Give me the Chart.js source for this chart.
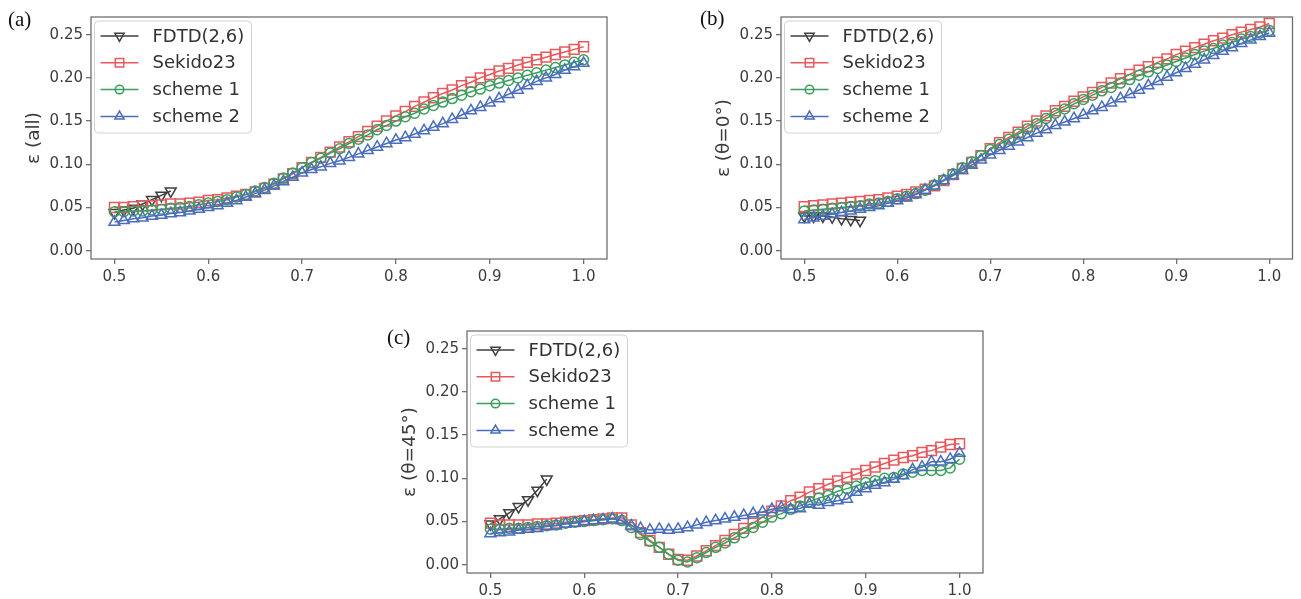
<!DOCTYPE html>
<html>
<head>
<meta charset="utf-8">
<script src="https://cdn.jsdelivr.net/npm/chart.js@4.4.1/dist/chart.umd.min.js"></script>
<style>
  html, body { margin: 0; padding: 0; background: #fff; }
  #wrap { position: relative; width: 1301px; height: 599px; overflow: hidden; background: #fff; }
  canvas { position: absolute; }
</style>
</head>
<body>
<div id="wrap">
  <canvas id="pa" width="640" height="295" style="left:0px;top:0px"></canvas>
  <canvas id="pb" width="611" height="295" style="left:690px;top:0px"></canvas>
  <canvas id="pc" width="620" height="285" style="left:376px;top:314px"></canvas>
</div>
<script>
// wavelength-like sweep shared by the three schemes
const xs = [0.50,0.51,0.52,0.53,0.54,0.55,0.56,0.57,0.58,0.59,
            0.60,0.61,0.62,0.63,0.64,0.65,0.66,0.67,0.68,0.69,
            0.70,0.71,0.72,0.73,0.74,0.75,0.76,0.77,0.78,0.79,
            0.80,0.81,0.82,0.83,0.84,0.85,0.86,0.87,0.88,0.89,
            0.90,0.91,0.92,0.93,0.94,0.95,0.96,0.97,0.98,0.99,1.00];
const xsFdtd = [0.50,0.51,0.52,0.53,0.54,0.55,0.56];

const xTicks = [0.5,0.6,0.7,0.8,0.9,1.0];
const yTicks = [0.00,0.05,0.10,0.15,0.20,0.25];

const seriesNames = ['FDTD(2,6)','Sekido23','scheme 1','scheme 2'];

// (a) all directions
const fdtdA = [0.044,0.047,0.049,0.054,0.059,0.064,0.069];
const sekidoA = [0.050,0.050,0.051,0.052,0.052,0.053,0.054,0.054,0.055,0.056,
                 0.058,0.059,0.061,0.063,0.065,0.068,0.072,0.077,0.083,0.089,
                 0.096,0.102,0.108,0.114,0.120,0.126,0.132,0.138,0.144,0.150,
                 0.156,0.161,0.167,0.172,0.177,0.182,0.186,0.191,0.195,0.200,
                 0.204,0.208,0.211,0.215,0.218,0.221,0.224,0.227,0.230,0.233,0.236];
const scheme1A = [0.045,0.045,0.046,0.046,0.047,0.048,0.049,0.050,0.051,0.053,
                  0.055,0.057,0.059,0.062,0.065,0.069,0.073,0.078,0.084,0.090,
                  0.096,0.102,0.107,0.113,0.118,0.124,0.129,0.134,0.140,0.145,
                  0.150,0.155,0.159,0.164,0.168,0.172,0.176,0.180,0.184,0.187,
                  0.191,0.194,0.197,0.200,0.203,0.206,0.209,0.212,0.215,0.218,0.221];
const scheme2A = [0.033,0.035,0.037,0.038,0.040,0.041,0.043,0.044,0.046,0.048,
                  0.050,0.052,0.055,0.058,0.062,0.066,0.070,0.075,0.080,0.085,
                  0.090,0.094,0.097,0.101,0.104,0.108,0.112,0.116,0.120,0.124,
                  0.128,0.131,0.135,0.139,0.143,0.147,0.152,0.157,0.162,0.166,
                  0.171,0.176,0.181,0.186,0.191,0.196,0.200,0.204,0.209,0.213,0.217];

// (b) theta = 0 deg
const fdtdB = [0.040,0.040,0.040,0.039,0.037,0.036,0.035];
const sekidoB = [0.051,0.052,0.053,0.054,0.055,0.056,0.057,0.058,0.059,0.061,
                 0.063,0.065,0.068,0.071,0.075,0.081,0.088,0.095,0.102,0.110,
                 0.118,0.125,0.131,0.137,0.144,0.150,0.156,0.162,0.167,0.173,
                 0.178,0.183,0.189,0.194,0.199,0.204,0.209,0.213,0.218,0.222,
                 0.227,0.231,0.235,0.239,0.243,0.246,0.250,0.253,0.256,0.259,0.263];
const scheme1B = [0.046,0.047,0.048,0.049,0.050,0.051,0.052,0.054,0.055,0.057,
                  0.060,0.063,0.066,0.070,0.076,0.082,0.089,0.096,0.103,0.110,
                  0.117,0.123,0.129,0.135,0.141,0.147,0.153,0.159,0.164,0.170,
                  0.175,0.180,0.185,0.189,0.194,0.198,0.203,0.207,0.211,0.215,
                  0.219,0.223,0.227,0.231,0.234,0.238,0.241,0.245,0.248,0.252,0.255];
const scheme2B = [0.036,0.038,0.040,0.042,0.044,0.046,0.048,0.050,0.052,0.055,
                  0.058,0.061,0.065,0.070,0.075,0.081,0.087,0.093,0.099,0.105,
                  0.111,0.116,0.121,0.126,0.131,0.136,0.140,0.145,0.149,0.153,
                  0.157,0.162,0.166,0.171,0.176,0.181,0.186,0.191,0.196,0.201,
                  0.206,0.211,0.216,0.221,0.226,0.231,0.235,0.240,0.244,0.248,0.252];

// (c) theta = 45 deg
const fdtdC = [0.047,0.053,0.060,0.067,0.075,0.086,0.099];
const sekidoC = [0.048,0.046,0.046,0.046,0.046,0.047,0.047,0.048,0.049,0.050,
                 0.051,0.052,0.053,0.054,0.054,0.046,0.037,0.028,0.020,0.012,
                 0.006,0.005,0.010,0.016,0.022,0.028,0.035,0.042,0.048,0.055,
                 0.062,0.068,0.074,0.078,0.084,0.088,0.093,0.097,0.101,0.105,
                 0.109,0.113,0.117,0.121,0.124,0.126,0.130,0.132,0.136,0.139,0.140];
const scheme1C = [0.041,0.041,0.042,0.042,0.043,0.044,0.045,0.046,0.048,0.049,
                  0.050,0.051,0.052,0.053,0.051,0.043,0.035,0.027,0.020,0.012,
                  0.005,0.003,0.008,0.014,0.020,0.025,0.031,0.037,0.043,0.049,
                  0.055,0.059,0.064,0.068,0.073,0.077,0.080,0.085,0.088,0.091,
                  0.095,0.097,0.100,0.101,0.105,0.107,0.109,0.109,0.109,0.112,0.122];
const scheme2C = [0.036,0.037,0.038,0.040,0.041,0.042,0.044,0.045,0.047,0.048,
                  0.050,0.051,0.052,0.053,0.051,0.045,0.042,0.040,0.041,0.040,
                  0.041,0.043,0.046,0.049,0.051,0.053,0.055,0.057,0.059,0.061,
                  0.064,0.066,0.064,0.065,0.070,0.069,0.072,0.074,0.076,0.084,
                  0.088,0.092,0.095,0.099,0.103,0.110,0.113,0.119,0.119,0.122,0.129];

const COLORS = { fdtd: '#3f3f3f', sekido: '#e8585c', s1: '#3a9e5e', s2: '#4a6ebd' };
const FONT = 'DejaVu Sans';
const TICK_COLOR = '#3c3c3c';
const SPINE_COLOR = '#707070';
const LINE_W = 1.5;

const pairs = (xv, yv) => xv.map((x, i) => ({ x: x, y: yv[i] }));

const MARKERS = {
  fdtd:   { pointStyle: 'triangle', rotation: 180, radius: 6.3 },
  sekido: { pointStyle: 'rect',     rotation: 0,   radius: 7.0 },
  s1:     { pointStyle: 'circle',   rotation: 0,   radius: 5.0 },
  s2:     { pointStyle: 'triangle', rotation: 0,   radius: 6.3 }
};
const KEYS = ['fdtd', 'sekido', 's1', 's2'];

// spines on all four sides, drawn over the data like matplotlib axes
const framePlugin = {
  id: 'frame',
  afterDatasetsDraw(chart) {
    const a = chart.chartArea, ctx = chart.ctx;
    ctx.save();
    ctx.strokeStyle = SPINE_COLOR;
    ctx.lineWidth = 1.3;
    ctx.strokeRect(a.left, a.top, a.right - a.left, a.bottom - a.top);
    ctx.restore();
  }
};

// panel tag, y-axis title and boxed legend
const annotatePlugin = {
  id: 'annotate',
  afterDraw(chart, args, opts) {
    const a = chart.chartArea, ctx = chart.ctx;
    ctx.save();
    // panel tag
    ctx.fillStyle = '#111';
    ctx.font = '21px "Liberation Serif"';
    ctx.textAlign = 'left';
    ctx.textBaseline = 'middle';
    ctx.fillText(opts.tag, opts.tagX, opts.tagY);
    // y title
    ctx.save();
    ctx.translate(a.left - 57, (a.top + a.bottom) / 2);
    ctx.rotate(-Math.PI / 2);
    ctx.fillStyle = TICK_COLOR;
    ctx.font = '18.5px "' + FONT + '"';
    ctx.textAlign = 'center';
    ctx.textBaseline = 'middle';
    ctx.fillText(opts.yTitle, 0, 0);
    ctx.restore();
    // legend box
    const bx = a.left + 3.5, by = a.top + 4, bw = 157, bh = 112, r = 4;
    ctx.beginPath();
    ctx.moveTo(bx + r, by);
    ctx.arcTo(bx + bw, by, bx + bw, by + bh, r);
    ctx.arcTo(bx + bw, by + bh, bx, by + bh, r);
    ctx.arcTo(bx, by + bh, bx, by, r);
    ctx.arcTo(bx, by, bx + bw, by, r);
    ctx.closePath();
    ctx.fillStyle = 'rgba(255,255,255,0.85)';
    ctx.fill();
    ctx.strokeStyle = '#d2d2d2';
    ctx.lineWidth = 1;
    ctx.stroke();
    KEYS.forEach((k, i) => {
      const y = by + 15 + i * 26.8;
      ctx.strokeStyle = COLORS[k];
      ctx.lineWidth = LINE_W;
      ctx.beginPath();
      ctx.moveTo(bx + 6, y);
      ctx.lineTo(bx + 44, y);
      ctx.stroke();
      ctx.fillStyle = 'rgba(0,0,0,0)';
      Chart.helpers.drawPoint(ctx, {
        pointStyle: MARKERS[k].pointStyle,
        rotation: MARKERS[k].rotation,
        radius: MARKERS[k].radius * 0.85,
        borderWidth: LINE_W
      }, bx + 25, y);
      ctx.fillStyle = '#333';
      ctx.font = '18px "' + FONT + '"';
      ctx.textAlign = 'left';
      ctx.textBaseline = 'middle';
      ctx.fillText(seriesNames[i], bx + 58, y + 1);
    });
    ctx.restore();
  }
};

function dataset(key, label, xv, yv, order) {
  return {
    label: label,
    data: pairs(xv, yv),
    borderColor: COLORS[key],
    borderWidth: LINE_W,
    backgroundColor: 'rgba(0,0,0,0)',
    pointBackgroundColor: 'rgba(0,0,0,0)',
    pointBorderColor: COLORS[key],
    pointBorderWidth: LINE_W,
    pointStyle: MARKERS[key].pointStyle,
    pointRotation: MARKERS[key].rotation,
    pointRadius: MARKERS[key].radius,
    pointHoverRadius: MARKERS[key].radius,
    tension: 0,
    fill: false,
    order: order
  };
}

function makePanel(id, p) {
  const tickFont = { family: FONT, size: 15 };
  new Chart(document.getElementById(id), {
    type: 'line',
    data: {
      datasets: [
        dataset('fdtd',   seriesNames[0], xsFdtd, p.fdtd,   3),
        dataset('sekido', seriesNames[1], xs,     p.sekido, 2),
        dataset('s1',     seriesNames[2], xs,     p.s1,     1),
        dataset('s2',     seriesNames[3], xs,     p.s2,     0)
      ]
    },
    options: {
      responsive: false,
      animation: false,
      devicePixelRatio: 1,
      events: [],
      layout: { padding: { left: 0, top: 17, right: p.padRight, bottom: 0 } },
      plugins: {
        legend: { display: false },
        tooltip: { enabled: false },
        annotate: { tag: p.tag, tagX: p.tagX, tagY: p.tagY, yTitle: p.yTitle }
      },
      scales: {
        x: {
          type: 'linear',
          min: 0.475,
          max: 1.025,
          afterBuildTicks: s => { s.ticks = xTicks.map(v => ({ value: v })); },
          afterFit: s => { s.height = p.xHeight; },
          ticks: {
            callback: v => Number(v).toFixed(1),
            font: tickFont, color: TICK_COLOR, padding: 4,
            maxRotation: 0, autoSkip: false
          },
          grid: { drawOnChartArea: false, drawTicks: true, tickLength: 5, color: SPINE_COLOR, lineWidth: 1.3 },
          border: { display: false }
        },
        y: {
          type: 'linear',
          min: -0.0097,
          max: 0.2705,
          afterBuildTicks: s => { s.ticks = yTicks.map(v => ({ value: v })); },
          afterFit: s => { s.width = 91; },
          ticks: {
            callback: v => Number(v).toFixed(2),
            font: tickFont, color: TICK_COLOR, padding: 3, autoSkip: false
          },
          grid: { drawOnChartArea: false, drawTicks: true, tickLength: 5, color: SPINE_COLOR, lineWidth: 1.3 },
          border: { display: false }
        }
      }
    },
    plugins: [framePlugin, annotatePlugin]
  });
}

makePanel('pa', { fdtd: fdtdA, sekido: sekidoA, s1: scheme1A, s2: scheme2A,
  padRight: 33, xHeight: 36, tag: '(a)', tagX: 8, tagY: 20, yTitle: 'ε (all)' });
makePanel('pb', { fdtd: fdtdB, sekido: sekidoB, s1: scheme1B, s2: scheme2B,
  padRight: 4, xHeight: 36, tag: '(b)', tagX: 10, tagY: 19, yTitle: 'ε (θ=0°)' });
makePanel('pc', { fdtd: fdtdC, sekido: sekidoC, s1: scheme1C, s2: scheme2C,
  padRight: 13, xHeight: 26, tag: '(c)', tagX: 11, tagY: 24, yTitle: 'ε (θ=45°)' });
</script>
</body>
</html>
